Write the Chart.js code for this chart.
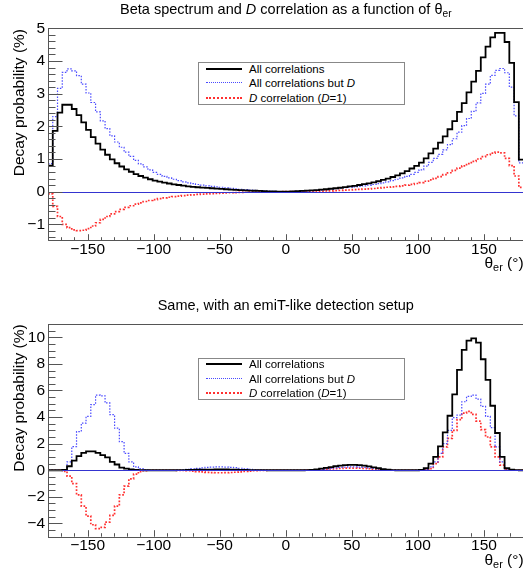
<!DOCTYPE html>
<html>
<head>
<meta charset="utf-8">
<script src="https://cdn.jsdelivr.net/npm/chart.js@4.4.1/dist/chart.umd.min.js"></script>
<style>
  html, body { margin: 0; padding: 0; background: #fff; overflow: hidden; }
  #page { position: relative; width: 523px; height: 575px; overflow: hidden;
          font-family: "Liberation Sans", Arial, sans-serif; color: #000; }
  canvas { position: absolute; left: 0; }
  .title { position: absolute; text-align: center; font-size: 14.5px; line-height: 17px; white-space: nowrap; }
  .ytitle { position: absolute; text-align: right; font-size: 15.5px; line-height: 18px;
            transform-origin: left top; transform: rotate(-90deg); white-space: nowrap; }
  .xtitle { position: absolute; right: -0.6px; font-size: 15.5px; line-height: 18px; white-space: nowrap; }
  .legend { position: absolute; left: 198px; width: 205px; border: 1px solid #888; background: #fff; font-size: 11.5px; }
  .legend .row { position: absolute; left: 0; width: 100%; height: 14px; line-height: 14px; white-space: nowrap; }
  .legend .sample { position: absolute; left: 7px; width: 36px; top: 6px; }
  .legend .txt { position: absolute; left: 50px; top: 0; }
  sub { font-size: 0.7em; vertical-align: -0.3em; line-height: 0; }
</style>
</head>
<body>
<div id="page">
  <canvas id="topChart" width="526" height="288" style="top:0"></canvas>
  <canvas id="bottomChart" width="526" height="287" style="top:288px"></canvas>

  <div class="title" style="left:48px; width:475.6px; top:1px">Beta spectrum and <i>D</i> correlation as a function of &theta;<sub>er</sub></div>
  <div class="title" style="left:48px; width:475.6px; top:296.5px">Same, with an emiT-like detection setup</div>

  <div class="ytitle" style="left:10px; top:240.7px; width:212px">Decay probability (%)</div>
  <div class="ytitle" style="left:10px; top:536.7px; width:212.7px">Decay probability (%)</div>

  <div class="xtitle" style="top:254px">&theta;<sub>er</sub> (&deg;)</div>
  <div class="xtitle" style="top:551px">&theta;<sub>er</sub> (&deg;)</div>

  <div class="legend" style="top:62px; height:41px">
    <div class="row" style="top:-1px"><div class="sample" style="border-top:2px solid #000"></div><span class="txt">All correlations</span></div>
    <div class="row" style="top:13px"><div class="sample" style="border-top:1px dotted #4a4aff"></div><span class="txt">All correlations but <i>D</i></span></div>
    <div class="row" style="top:27.5px"><div class="sample" style="border-top:2px dotted #ff3030"></div><span class="txt"><i>D</i> correlation (<i>D</i>=1)</span></div>
  </div>
  <div class="legend" style="top:358px; height:40px">
    <div class="row" style="top:-2px"><div class="sample" style="border-top:2px solid #000"></div><span class="txt">All correlations</span></div>
    <div class="row" style="top:12.5px"><div class="sample" style="border-top:1px dotted #4a4aff"></div><span class="txt">All correlations but <i>D</i></span></div>
    <div class="row" style="top:27px"><div class="sample" style="border-top:2px dotted #ff3030"></div><span class="txt"><i>D</i> correlation (<i>D</i>=1)</span></div>
  </div>
</div>

<script>
// Binning: 100 bins of 3.6 degrees between -180 and 180
const binLow = -180;
const binWidth = 3.6;
const nBins = 100;

const xMajorTicks = [-150, -100, -50, 0, 50, 100, 150];
const yTicksTop = [-1, 0, 1, 2, 3, 4, 5];
const yTicksBottom = [-4, -2, 0, 2, 4, 6, 8, 10];

// Top panel: full angular range
const allCorrTop = [
  0.80, 1.86, 2.42, 2.66, 2.66, 2.53, 2.34, 2.12, 1.89, 1.67,
  1.47, 1.29, 1.13, 0.99, 0.87, 0.77, 0.68, 0.61, 0.54, 0.48,
  0.43, 0.38, 0.34, 0.31, 0.28, 0.25, 0.225, 0.205, 0.185, 0.165,
  0.15, 0.135, 0.125, 0.115, 0.105, 0.095, 0.085, 0.075, 0.065, 0.058,
  0.05, 0.043, 0.035, 0.028, 0.022, 0.016, 0.011, 0.007, 0.004, 0.002,
  0.004, 0.009, 0.015, 0.022, 0.03, 0.04, 0.05, 0.062, 0.075, 0.09,
  0.105, 0.12, 0.14, 0.16, 0.18, 0.205, 0.23, 0.255, 0.285, 0.32,
  0.36, 0.40, 0.45, 0.50, 0.56, 0.63, 0.71, 0.79, 0.89, 1.02,
  1.17, 1.32, 1.50, 1.69, 1.91, 2.16, 2.44, 2.71, 3.04, 3.37,
  3.70, 4.11, 4.44, 4.72, 4.86, 4.86, 4.58, 3.94, 2.74, 0.98
];
const noDTop = [
  0.86, 2.30, 3.16, 3.65, 3.76, 3.70, 3.55, 3.29, 3.02, 2.73,
  2.44, 2.17, 1.93, 1.71, 1.52, 1.36, 1.21, 1.08, 0.96, 0.85,
  0.76, 0.67, 0.59, 0.53, 0.47, 0.42, 0.38, 0.34, 0.30, 0.27,
  0.245, 0.22, 0.20, 0.18, 0.165, 0.15, 0.135, 0.12, 0.105, 0.09,
  0.075, 0.062, 0.05, 0.04, 0.03, 0.022, 0.015, 0.01, 0.006, 0.003,
  0.003, 0.006, 0.01, 0.015, 0.022, 0.03, 0.04, 0.05, 0.062, 0.075,
  0.09, 0.105, 0.12, 0.135, 0.15, 0.165, 0.18, 0.20, 0.22, 0.245,
  0.27, 0.30, 0.34, 0.38, 0.42, 0.47, 0.53, 0.59, 0.67, 0.78,
  0.90, 1.02, 1.14, 1.28, 1.44, 1.62, 1.82, 2.02, 2.24, 2.46,
  2.72, 3.01, 3.29, 3.56, 3.71, 3.77, 3.64, 3.20, 2.32, 0.88
];
const dTop = [
  -0.07, -0.45, -0.76, -1.00, -1.10, -1.17, -1.19, -1.18, -1.13, -1.05,
  -0.95, -0.85, -0.76, -0.68, -0.61, -0.54, -0.48, -0.43, -0.38, -0.34,
  -0.30, -0.27, -0.24, -0.215, -0.19, -0.17, -0.15, -0.135, -0.12, -0.105,
  -0.095, -0.085, -0.075, -0.065, -0.058, -0.05, -0.044, -0.038, -0.032, -0.027,
  -0.022, -0.018, -0.014, -0.011, -0.008, -0.006, -0.004, -0.003, -0.002, -0.001,
  0.001, 0.002, 0.004, 0.006, 0.008, 0.011, 0.014, 0.018, 0.022, 0.027,
  0.032, 0.038, 0.045, 0.052, 0.06, 0.068, 0.077, 0.087, 0.098, 0.11,
  0.122, 0.135, 0.15, 0.165, 0.18, 0.20, 0.225, 0.25, 0.28, 0.32,
  0.36, 0.41, 0.46, 0.52, 0.58, 0.65, 0.72, 0.79, 0.86, 0.93,
  1.00, 1.07, 1.13, 1.18, 1.21, 1.19, 1.02, 0.80, 0.48, 0.13
];

// Bottom panel: emiT-like acceptance
const allCorrBottom = [
  0, 0, 0, 0.02, 0.30, 0.73, 1.06, 1.31, 1.42, 1.42,
  1.30, 1.14, 0.96, 0.63, 0.43, 0.20, 0.12, 0.06, 0.02, 0.01,
  0, 0, 0, 0, 0, 0, 0, 0.005, 0.01, 0.02,
  0.03, 0.04, 0.05, 0.05, 0.05, 0.06, 0.06, 0.06, 0.05, 0.04,
  0.03, 0.02, 0.01, 0.01, 0.005, 0.005, 0, 0, 0, 0,
  0, 0, 0, 0, 0.01, 0.03, 0.07, 0.12, 0.18, 0.24,
  0.30, 0.35, 0.39, 0.41, 0.41, 0.39, 0.35, 0.29, 0.22, 0.15,
  0.09, 0.04, 0.015, 0, 0, 0, 0, 0, 0.02, 0.15,
  0.50, 1.00, 1.80, 2.85, 4.10, 5.70, 7.55, 9.05, 9.75, 9.92,
  9.60, 8.35, 6.80, 4.85, 2.80, 1.00, 0.15, 0.04, 0.01, 0
];
const noDBottom = [
  0, 0, 0, 0.05, 0.63, 1.77, 2.91, 3.54, 4.05, 4.94,
  5.65, 5.60, 5.06, 4.18, 3.16, 2.15, 1.27, 0.63, 0.25, 0.12,
  0.04, 0, 0, 0, 0, 0, 0, 0.01, 0.03, 0.06,
  0.10, 0.14, 0.18, 0.21, 0.23, 0.25, 0.25, 0.24, 0.22, 0.19,
  0.15, 0.11, 0.07, 0.04, 0.02, 0.01, 0, 0, 0, 0,
  0, 0, 0, 0, 0.005, 0.02, 0.04, 0.07, 0.10, 0.14,
  0.18, 0.21, 0.23, 0.25, 0.25, 0.24, 0.21, 0.18, 0.14, 0.10,
  0.06, 0.03, 0.01, 0, 0, 0, 0, 0, 0, 0.05,
  0.25, 0.63, 1.27, 2.00, 3.00, 3.95, 4.15, 5.15, 5.55, 5.65,
  5.35, 4.80, 4.05, 3.20, 1.75, 0.63, 0.10, 0.02, 0, 0
];
const dBottom = [
  0, 0, 0, -0.08, -0.45, -1.00, -1.85, -2.70, -3.45, -4.10,
  -4.40, -4.30, -3.90, -3.40, -2.70, -1.85, -1.20, -0.65, -0.30, -0.10,
  -0.03, 0, 0, 0, 0, 0, 0, -0.005, -0.02, -0.04,
  -0.07, -0.10, -0.13, -0.16, -0.18, -0.19, -0.19, -0.18, -0.17, -0.15,
  -0.12, -0.09, -0.06, -0.03, -0.015, -0.005, 0, 0, 0, 0,
  0, 0, 0, 0, 0.005, 0.01, 0.03, 0.05, 0.08, 0.10,
  0.12, 0.14, 0.16, 0.16, 0.16, 0.15, 0.14, 0.11, 0.08, 0.05,
  0.03, 0.01, 0.005, 0, 0, 0, 0, 0, 0, 0.02,
  0.12, 0.50, 1.00, 1.75, 2.40, 3.00, 3.80, 4.30, 4.42, 4.20,
  3.70, 3.05, 2.50, 1.75, 1.00, 0.38, 0.05, 0.01, 0, 0
];

const binEdges = Array.from({ length: nBins + 1 }, (_, i) => +(binLow + i * binWidth).toFixed(1));

// histogram -> step points at lower bin edges, closing point at the last upper edge
function histPoints(values) {
  const pts = values.map((v, i) => ({ x: binEdges[i], y: v }));
  pts.push({ x: binEdges[nBins], y: values[nBins - 1] });
  return pts;
}

const minus = v => String(v).replace('-', '\u2212');

// ROOT-like frame, inner tick marks and the y = 0 line
const rootAxes = {
  id: 'rootAxes',
  afterDatasetsDraw(chart, args, opts) {
    const { ctx, chartArea: a, scales: { x, y } } = chart;
    ctx.save();
    const y0 = Math.round(y.getPixelForValue(0)) + 0.5;
    ctx.strokeStyle = '#3434d0';
    ctx.lineWidth = 1;
    ctx.beginPath();
    ctx.moveTo(a.left, y0);
    ctx.lineTo(a.right, y0);
    ctx.stroke();

    ctx.strokeStyle = '#555';
    ctx.beginPath();
    ctx.rect(Math.round(a.left) + 0.5, Math.round(a.top) + 0.5, a.right - a.left, Math.round(a.bottom - a.top));
    for (let v = -180; v <= 180; v += 10) {
      const px = Math.round(x.getPixelForValue(v)) + 0.5;
      const len = v % 50 === 0 ? 6.5 : 3.5;
      ctx.moveTo(px, a.bottom);
      ctx.lineTo(px, a.bottom - len);
    }
    const start = Math.ceil(y.min / opts.minor - 1e-6);
    const stop = Math.floor(y.max / opts.minor + 1e-6);
    for (let k = start; k <= stop; k++) {
      const v = k * opts.minor;
      const isMajor = Math.abs(v / opts.major - Math.round(v / opts.major)) < 1e-6;
      const py = Math.round(y.getPixelForValue(v)) + 0.5;
      ctx.moveTo(a.left, py);
      ctx.lineTo(a.left + (isMajor ? 14.5 : 7.5), py);
    }
    ctx.stroke();
    ctx.restore();
  }
};

Chart.defaults.font.family = '"Liberation Sans", Arial, sans-serif';
Chart.defaults.color = '#000';

function makeChart(id, series, yMin, yMax, yTicks, minor, major, topPad, xAxisHeight) {
  const ctx = document.getElementById(id).getContext('2d');
  return new Chart(ctx, {
    type: 'line',
    data: {
      datasets: [
        {
          label: 'All correlations',
          data: histPoints(series[0]),
          borderColor: '#000',
          borderWidth: 1.8,
          stepped: true,
          pointRadius: 0,
          fill: false
        },
        {
          label: 'All correlations but D',
          data: histPoints(series[1]),
          borderColor: '#4a4aff',
          borderWidth: 1.2,
          borderDash: [1.5, 1.5],
          stepped: true,
          pointRadius: 0,
          fill: false
        },
        {
          label: 'D correlation (D=1)',
          data: histPoints(series[2]),
          borderColor: '#ff3030',
          borderWidth: 1.7,
          borderDash: [1.7, 1.7],
          stepped: true,
          pointRadius: 0,
          fill: false
        }
      ]
    },
    options: {
      responsive: false,
      animation: false,
      events: [],
      layout: { padding: { top: topPad, right: 2.4, left: 0, bottom: 0 } },
      scales: {
        x: {
          type: 'linear',
          min: -180,
          max: 180,
          grid: { display: false, drawTicks: false },
          border: { display: false },
          afterBuildTicks: scale => { scale.ticks = xMajorTicks.map(v => ({ value: v })); },
          afterFit: scale => { scale.height = xAxisHeight; },
          ticks: { padding: 0, maxRotation: 0, font: { size: 15.5 }, callback: minus }
        },
        y: {
          min: yMin,
          max: yMax,
          grid: { display: false, drawTicks: false },
          border: { display: false },
          afterBuildTicks: scale => { scale.ticks = yTicks.map(v => ({ value: v })); },
          afterFit: scale => { scale.width = 48; },
          ticks: { padding: 3, font: { size: 15.5 }, callback: minus }
        }
      },
      plugins: {
        legend: { display: false },
        title: { display: false },
        tooltip: { enabled: false },
        rootAxes: { minor: minor, major: major }
      }
    },
    plugins: [rootAxes]
  });
}

makeChart('topChart', [allCorrTop, noDTop, dTop], -1.5, 5, yTicksTop, 0.2, 1, 28.3, 47.3);
makeChart('bottomChart', [allCorrBottom, noDBottom, dBottom], -5, 11, yTicksBottom, 0.5, 2, 36, 38.3);
</script>
</body>
</html>
